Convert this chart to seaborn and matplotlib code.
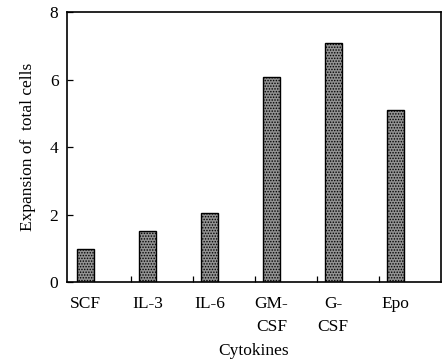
import matplotlib
matplotlib.use("Agg")
import matplotlib.pyplot as plt
from matplotlib.ticker import FixedLocator
import seaborn as sns
import pandas as pd

# Fold expansion of total cells for each cytokine
cytokines = ["SCF", "IL-3", "IL-6", "GM-CSF", "G-CSF", "Epo"]
expansion = [1.0, 1.52, 2.05, 6.07, 7.08, 5.1]
tick_labels = ["SCF", "IL-3", "IL-6", "GM-\nCSF", "G-\nCSF", "Epo"]
y_ticks = [0, 2, 4, 6, 8]

sns.set_theme(style="ticks")
plt.rcParams["font.family"] = ["Liberation Serif", "DejaVu Serif"]
plt.rcParams["hatch.linewidth"] = 0.7

df = pd.DataFrame({"cytokine": cytokines, "expansion": expansion})

fig = plt.figure(figsize=(4.45, 3.61), dpi=100)
ax = fig.add_axes([0.150, 0.2175, 0.840, 0.7495])

sns.barplot(
    data=df, x="cytokine", y="expansion", order=cytokines,
    width=0.28, color="#929292", saturation=1,
    edgecolor="black", linewidth=1.0, errorbar=None, ax=ax,
)
for p in ax.patches:
    p.set_hatch("......")

n = len(cytokines)
ax.set_xlim(-0.30, n - 0.27)
ax.set_ylim(0, 8)
ax.set_yticks(y_ticks)
ax.set_xticks(range(n))
ax.set_xticklabels(tick_labels, linespacing=1.55)
# short separators between the cytokine groups
ax.xaxis.set_minor_locator(FixedLocator([i + 0.73 for i in range(n - 1)]))

ax.tick_params(axis="x", which="major", length=0, pad=10, labelsize=12.5, colors="black")
ax.tick_params(axis="x", which="minor", direction="in", length=4, width=0.9, color="black")
ax.tick_params(axis="y", direction="in", length=4, width=0.9, pad=6, labelsize=12.5, colors="black")

for s in ax.spines.values():
    s.set_visible(True)
    s.set_linewidth(1.2)
    s.set_color("black")

ax.set_xlabel("Cytokines", fontsize=12.5, labelpad=6, color="black")
ax.set_ylabel("Expansion of  total cells", fontsize=12.5, labelpad=10, color="black")

fig.savefig("out.png", dpi=100)
